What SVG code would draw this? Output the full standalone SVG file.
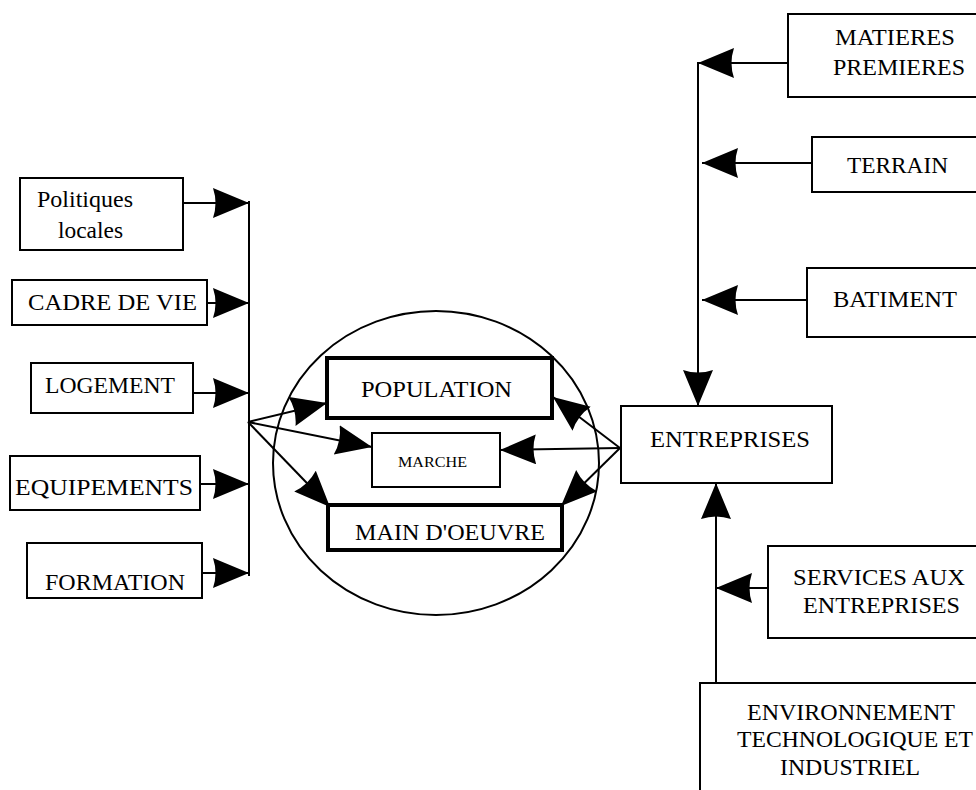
<svg xmlns="http://www.w3.org/2000/svg" width="976" height="790" viewBox="0 0 976 790">
<style>
.box{fill:#fff;stroke:#000;stroke-width:2}
.thick{fill:#fff;stroke:#000;stroke-width:4}
.t{font-size:23px;fill:#000}
.s{font-size:15px;fill:#000}
.c{fill:none;stroke:#000;stroke-width:2}
</style>
<defs>
<marker id="ah" markerUnits="userSpaceOnUse" markerWidth="40" markerHeight="32" refX="36" refY="15" orient="auto">
<path d="M0,0 L36,15 L0,30 Q5,15 0,0 z" fill="#000"/>
</marker>
</defs>
<rect width="976" height="790" fill="#fff"/>
<ellipse cx="436" cy="463" rx="163" ry="152" class="c"/>
<g id="connectors">
<line class="c" x1="249" y1="201" x2="249" y2="576"/>
<line class="c" x1="183" y1="203" x2="249" y2="203" marker-end="url(#ah)"/>
<line class="c" x1="207" y1="303" x2="249" y2="303" marker-end="url(#ah)"/>
<line class="c" x1="193" y1="393" x2="249" y2="393" marker-end="url(#ah)"/>
<line class="c" x1="200" y1="484" x2="249" y2="484" marker-end="url(#ah)"/>
<line class="c" x1="202" y1="573" x2="249" y2="573" marker-end="url(#ah)"/>
<line class="c" x1="248" y1="422" x2="327" y2="403" marker-end="url(#ah)"/>
<line class="c" x1="248" y1="422" x2="372" y2="447" marker-end="url(#ah)"/>
<line class="c" x1="248" y1="422" x2="330" y2="507" marker-end="url(#ah)"/>
<line class="c" x1="620" y1="448" x2="553" y2="397" marker-end="url(#ah)"/>
<line class="c" x1="620" y1="448" x2="500" y2="450" marker-end="url(#ah)"/>
<line class="c" x1="620" y1="448" x2="561" y2="506" marker-end="url(#ah)"/>
<line class="c" x1="698" y1="62" x2="698" y2="406" marker-end="url(#ah)"/>
<line class="c" x1="788" y1="63" x2="698" y2="63" marker-end="url(#ah)"/>
<line class="c" x1="812" y1="163" x2="702" y2="163" marker-end="url(#ah)"/>
<line class="c" x1="807" y1="300" x2="702" y2="300" marker-end="url(#ah)"/>
<line class="c" x1="716" y1="683" x2="716" y2="483" marker-end="url(#ah)"/>
<line class="c" x1="768" y1="588" x2="716" y2="588" marker-end="url(#ah)"/>
</g>
<g font-family="'Liberation Serif', 'DejaVu Serif', serif">
<g id="politiques"><rect class="box" x="20" y="178" width="163" height="72"/><text class="t" x="37" y="207" textLength="96" lengthAdjust="spacingAndGlyphs">Politiques</text><text class="t" x="58" y="238" textLength="65" lengthAdjust="spacingAndGlyphs">locales</text></g>
<g id="cadre"><rect class="box" x="12" y="280" width="195" height="45"/><text class="t" x="28" y="310" textLength="169" lengthAdjust="spacingAndGlyphs">CADRE DE VIE</text></g>
<g id="logement"><rect class="box" x="31" y="363" width="162" height="50"/><text class="t" x="45" y="393" textLength="130" lengthAdjust="spacingAndGlyphs">LOGEMENT</text></g>
<g id="equipements"><rect class="box" x="10" y="456" width="190" height="54"/><text class="t" x="15" y="495" textLength="178" lengthAdjust="spacingAndGlyphs">EQUIPEMENTS</text></g>
<g id="formation"><rect class="box" x="27" y="543" width="175" height="55"/><text class="t" x="45" y="590" textLength="140" lengthAdjust="spacingAndGlyphs">FORMATION</text></g>
<g id="population"><rect class="thick" x="327" y="358" width="225" height="60"/><text class="t" x="361" y="397" textLength="151" lengthAdjust="spacingAndGlyphs">POPULATION</text></g>
<g id="marche"><rect class="box" x="372" y="433" width="128" height="54"/><text class="s" x="398" y="467" textLength="69" lengthAdjust="spacingAndGlyphs">MARCHE</text></g>
<g id="maindoeuvre"><rect class="thick" x="328" y="505" width="234" height="45"/><text class="t" x="355" y="540" textLength="190" lengthAdjust="spacingAndGlyphs">MAIN D'OEUVRE</text></g>
<g id="entreprises"><rect class="box" x="621" y="406" width="211" height="77"/><text class="t" x="650" y="447" textLength="160" lengthAdjust="spacingAndGlyphs">ENTREPRISES</text></g>
<g id="matieres"><rect class="box" x="788" y="14" width="200" height="83"/><text class="t" x="835" y="45" textLength="120" lengthAdjust="spacingAndGlyphs">MATIERES</text><text class="t" x="833" y="75" textLength="132" lengthAdjust="spacingAndGlyphs">PREMIERES</text></g>
<g id="terrain"><rect class="box" x="812" y="137" width="180" height="55"/><text class="t" x="847" y="173" textLength="101" lengthAdjust="spacingAndGlyphs">TERRAIN</text></g>
<g id="batiment"><rect class="box" x="807" y="268" width="185" height="69"/><text class="t" x="833" y="307" textLength="124" lengthAdjust="spacingAndGlyphs">BATIMENT</text></g>
<g id="services"><rect class="box" x="768" y="546" width="220" height="92"/><text class="t" x="793" y="585" textLength="172" lengthAdjust="spacingAndGlyphs">SERVICES AUX</text><text class="t" x="803" y="613" textLength="157" lengthAdjust="spacingAndGlyphs">ENTREPRISES</text></g>
<g id="environnement"><rect class="box" x="700" y="683" width="290" height="120"/><text class="t" x="747" y="720" textLength="208" lengthAdjust="spacingAndGlyphs">ENVIRONNEMENT</text><text class="t" x="737" y="747" textLength="236" lengthAdjust="spacingAndGlyphs">TECHNOLOGIQUE ET</text><text class="t" x="780" y="775" textLength="140" lengthAdjust="spacingAndGlyphs">INDUSTRIEL</text></g>
</g>
</svg>
